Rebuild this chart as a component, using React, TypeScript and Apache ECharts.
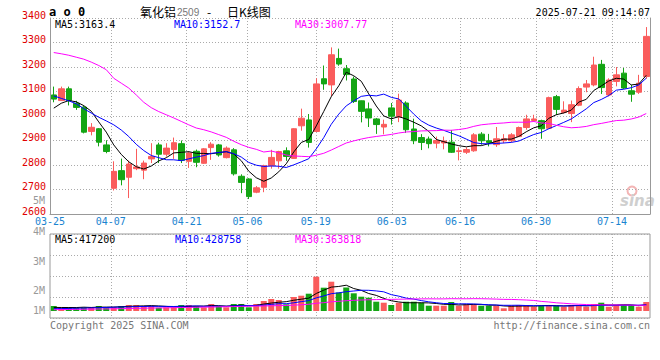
import React, { useEffect, useRef } from "react";
import * as echarts from "echarts";

const dates = [
  "03-25","03-26","03-27","03-28","03-31",
  "04-01","04-02","04-03","04-07","04-08","04-09","04-10","04-11","04-14","04-15","04-16","04-17","04-18","04-21","04-22","04-23","04-24","04-25","04-28","04-29","04-30",
  "05-06","05-07","05-08","05-09","05-12","05-13","05-14","05-15","05-16","05-19","05-20","05-21","05-22","05-23","05-26","05-27","05-28","05-29","05-30",
  "06-03","06-04","06-05","06-06","06-09","06-10","06-11","06-12","06-13","06-16","06-17","06-18","06-19","06-20","06-23","06-24","06-25","06-26","06-27","06-30",
  "07-01","07-02","07-03","07-04","07-07","07-08","07-09","07-10","07-11","07-14","07-15","07-16","07-17","07-18","07-21",
];

const opens = [
  3086,3063,3111,3052,3036,2937,2948,2882,2705,2777,
  2750,2785,2779,2825,2882,2844,2863,2887,2815,2856,
  2807,2871,2882,2830,2862,2754,2743,2689,2709,2797,
  2817,2858,2827,2960,2984,2937,3152,3127,3235,3193,
  3151,3062,3029,2988,2955,3033,2996,3053,2947,2912,
  2906,2889,2890,2893,2855,2852,2858,2926,2899,2883,
  2899,2899,2916,2953,2982,2981,2950,3079,3014,3010,
  3044,3118,3127,3211,3086,3141,3175,3103,3097,3161,
];
const closes = [
  3069,3111,3063,3035,2934,2954,2893,2855,2774,2740,
  2804,2792,2808,2835,2844,2869,2891,2819,2849,2811,
  2866,2885,2841,2869,2764,2729,2671,2707,2797,2831,
  2855,2835,2948,2991,2892,3131,3131,3250,3212,3169,
  3059,3019,2992,2965,2966,2999,3065,2944,2899,2892,
  2887,2900,2898,2852,2858,2863,2923,2899,2892,2907,
  2907,2923,2953,2988,2988,2948,3075,3027,3024,3046,
  3112,3131,3208,3116,3147,3168,3114,3089,3134,3325,
];
const lows = [
  3056,3062,3043,3025,2929,2921,2876,2848,2696,2717,
  2665,2779,2742,2808,2808,2834,2825,2808,2788,2791,
  2805,2821,2834,2827,2757,2685,2661,2685,2689,2785,
  2785,2817,2825,2940,2871,2934,3107,3080,3205,3145,
  3053,2974,2955,2927,2925,2965,2975,2931,2885,2861,
  2868,2868,2864,2849,2819,2845,2854,2883,2876,2874,
  2889,2893,2915,2944,2977,2907,2947,3004,3010,2975,
  3040,3097,3121,3090,3080,3121,3110,3058,3090,3152,
];
const highs = [
  3120,3120,3120,3062,3043,2971,2951,2901,2815,2826,
  2818,2866,2818,2889,2891,2889,2912,2900,2856,2863,
  2869,2893,2886,2876,2869,2762,2746,2714,2801,2862,
  2858,2872,2950,3030,3008,3154,3206,3280,3275,3208,
  3161,3063,3055,2992,2985,3053,3091,3060,2989,2926,
  2916,2916,2916,2943,2872,2872,2930,2934,2927,2955,
  2926,2930,2957,3005,3005,2985,3079,3086,3060,3063,
  3121,3147,3242,3229,3154,3200,3196,3127,3168,3363,
];
const volumes = [
  330000,218000,244000,218000,244000,244000,330000,244000,244000,330000,
  396000,396000,330000,330000,218000,244000,244000,396000,396000,330000,
  244000,462000,330000,244000,462000,462000,244000,462000,660000,792000,
  726000,442000,924000,1010000,1142000,2264000,1538000,1934000,1221000,1551000,
  1168000,944000,878000,614000,548000,396000,548000,614000,614000,548000,
  350000,350000,350000,594000,350000,442000,442000,350000,350000,350000,
  178000,350000,396000,396000,284000,350000,396000,350000,284000,396000,
  396000,284000,462000,548000,284000,396000,396000,396000,284000,594000,
];

const ma5Head = [3032, 3052, 3063, 3058];
const ma10Head = [3082, 3072, 3062, 3050, 3030, 3012, 2995, 2980, 2964];
const ma30Head = [
  3259,3254,3248,3240,3232,3220,3206,3189,3154,3134,
  3114,3086,3056,3034,3018,3005,2992,2978,2964,2951,
  2944,2935,2924,2913,2897,2883,2872,2864,2853,
];
const volMa5Head = [238000, 232000, 230000, 228000];
const volMa10Head = [150000, 160000, 170000, 180000, 190000, 205000, 220000, 235000, 250000];
const volMa30Head = [
  90000,95000,100000,108000,115000,122000,130000,138000,146000,155000,
  165000,175000,185000,195000,203000,212000,220000,228000,236000,245000,
  255000,264000,273000,282000,292000,302000,312000,322000,332000,
];

const labelDates = ["03-25","04-07","04-21","05-06","05-19","06-03","06-16","06-30","07-14"];
const priceMin = 2600;
const priceMax = 3400;
const priceStep = 100;
const volumeTickLabels = ["5M", "4M", "3M", "2M", "1M"];
const mainLegend = ["MA5:3163.4", "MA10:3152.7", "MA30:3007.77"];
const volLegend = ["MA5:417200", "MA10:428758", "MA30:363818"];
const titleParts = ["氧化铝", "2509", "-", "日K线图"];
const timeStamp = "2025-07-21 09:14:07";

const RED = "#fa5c5c";
const GREEN = "#14a514";
const MONO = '"DejaVu Sans Mono", "Liberation Mono", monospace';

function movingAvg(values: number[], n: number, head: number[], digits: number) {
  return values.map((_, i) => {
    if (i < n - 1) return head[i];
    let s = 0;
    for (let k = i - n + 1; k <= i; k++) s += values[k];
    return +(s / n).toFixed(digits);
  });
}

function txt(x: number, y: number, text: string, fill: string, font: string, align = "left") {
  return {
    type: "text",
    x,
    y,
    silent: true,
    style: {
      text, fill, font, align, textAlign: align,
      verticalAlign: "middle", textVerticalAlign: "middle", lineHeight: 10,
    },
  };
}

export default function App() {
  const ref = useRef<HTMLDivElement>(null);
  useEffect(() => {
    if (!ref.current) return;
    const chart = echarts.init(ref.current, null, { renderer: "svg" });
    const labelIdx = new Set(labelDates.map((d) => dates.indexOf(d)));
    const grid = { color: "#aaa", type: [1, 2] as any, width: 1 };
    const volPx = 66000;
    const volMin = -7 * volPx;
    const volMax = 77 * volPx;

    const candles = dates.map((_, i) => [opens[i], closes[i], lows[i], highs[i]]);
    const volData = volumes.map((v, i) => ({
      value: v,
      itemStyle: { color: closes[i] >= opens[i] ? RED : GREEN },
    }));

    const lineS = (name: string, data: number[], color: string, xi: number, yi: number) => ({
      name,
      type: "line",
      xAxisIndex: xi,
      yAxisIndex: yi,
      data,
      symbol: "none",
      silent: true,
      lineStyle: { color, width: 1 },
      z: 5,
    });

    const graphics: any[] = [
      txt(49, 12, "a o 0", "#000", `bold 12px ${MONO}`),
      txt(140, 11, titleParts[0], "#000", '12px "Noto Sans CJK SC"'),
      txt(177, 12, titleParts[1], "#777", '10px "Liberation Sans"'),
      txt(207, 11, titleParts[2], "#000", '12px "Noto Sans CJK SC"'),
      txt(227, 11, titleParts[3], "#000", '12px "Noto Sans CJK SC"'),
      txt(650, 12, timeStamp, "#000", `10px ${MONO}`, "right"),
      txt(55, 24, mainLegend[0], "#000", `10px ${MONO}`),
      txt(174, 24, mainLegend[1], "#0000ff", `10px ${MONO}`),
      txt(295, 24, mainLegend[2], "#ff00ff", `10px ${MONO}`),
      txt(55, 239, volLegend[0], "#000", `10px ${MONO}`),
      txt(175, 239, volLegend[1], "#0000ff", `10px ${MONO}`),
      txt(295, 239, volLegend[2], "#ff00ff", `10px ${MONO}`),
      txt(50, 325, "Copyright 2025 SINA.COM", "#777", `10px ${MONO}`),
      txt(650, 325, "http://finance.sina.com.cn", "#777", `10px ${MONO}`, "right"),
      {
        type: "circle",
        shape: { cx: 632, cy: 191, r: 4.5 },
        silent: true,
        style: { fill: "none", stroke: "#f3b5b5", lineWidth: 2 },
      },
      txt(620, 201, "sina", "#cfcfcf", 'italic bold 15px "DejaVu Sans"'),
    ];
    const volY = [200, 231, 261, 290, 310];
    volumeTickLabels.forEach((t, i) => graphics.push(txt(45, volY[i], t, "#999", `10px ${MONO}`, "right")));

    chart.setOption({
      animation: false,
      backgroundColor: "#fff",
      grid: [
        { left: 50, right: 10, top: 18, height: 196 },
        { left: 50, right: 10, top: 234, height: 84, show: true, borderColor: "#999", borderWidth: 1 },
      ],
      xAxis: [
        {
          type: "category", gridIndex: 0, data: dates, boundaryGap: true,
          axisLine: { show: true, lineStyle: { color: "#999" } },
          axisTick: { show: false }, axisLabel: { show: false }, splitLine: { show: false },
        },
        {
          type: "category", gridIndex: 0, data: dates, boundaryGap: false, position: "bottom",
          axisLine: { show: false }, axisTick: { show: false },
          axisLabel: {
            interval: (i: number) => labelIdx.has(i),
            color: "#1a84d0", fontSize: 10, fontFamily: MONO, margin: 2, lineHeight: 10,
          },
          splitLine: { show: true, interval: (i: number) => labelIdx.has(i) && i > 0, lineStyle: grid },
        },
        {
          type: "category", gridIndex: 1, data: dates, boundaryGap: true,
          axisLine: { show: false }, axisTick: { show: false }, axisLabel: { show: false }, splitLine: { show: false },
        },
        {
          type: "category", gridIndex: 1, data: dates, boundaryGap: false,
          axisLine: { show: false }, axisTick: { show: false }, axisLabel: { show: false },
          splitLine: { show: true, interval: (i: number) => labelIdx.has(i) && i > 0, lineStyle: grid },
        },
      ],
      yAxis: [
        {
          type: "value", gridIndex: 0, min: priceMin, max: priceMax, interval: priceStep, position: "left",
          axisLine: { show: true, lineStyle: { color: "#999" } }, axisTick: { show: false },
          axisLabel: {
            color: "#e00000", fontSize: 10, fontFamily: MONO, margin: 4,
            verticalAlign: "bottom", lineHeight: 6,
            formatter: (v: number) => String(v),
          },
          splitLine: { show: true, lineStyle: grid },
        },
        {
          type: "value", gridIndex: 0, min: priceMin, max: priceMax, interval: priceStep, position: "right",
          axisLine: { show: true, lineStyle: { color: "#999" } }, axisTick: { show: false },
          axisLabel: { show: false }, splitLine: { show: false },
        },
        { type: "value", gridIndex: 1, min: volMin, max: volMax, show: false, splitLine: { show: false } },
        {
          type: "value", gridIndex: 1, min: 0, max: 4, interval: 1,
          axisLine: { show: false }, axisTick: { show: false }, axisLabel: { show: false },
          splitLine: { show: true, lineStyle: grid },
        },
      ],
      series: [
        {
          type: "candlestick", xAxisIndex: 0, yAxisIndex: 0, data: candles, barWidth: 6, silent: true,
          itemStyle: { color: RED, color0: GREEN, borderColor: RED, borderColor0: GREEN, borderWidth: 1 },
        },
        lineS("MA5", movingAvg(closes, 5, ma5Head, 2), "#000", 0, 0),
        lineS("MA10", movingAvg(closes, 10, ma10Head, 2), "#0000ff", 0, 0),
        lineS("MA30", movingAvg(closes, 30, ma30Head, 2), "#ff00ff", 0, 0),
        { type: "bar", xAxisIndex: 2, yAxisIndex: 2, data: volData, barWidth: 6, silent: true },
        lineS("VMA5", movingAvg(volumes, 5, volMa5Head, 0), "#000", 2, 2),
        lineS("VMA10", movingAvg(volumes, 10, volMa10Head, 0), "#0000ff", 2, 2),
        lineS("VMA30", movingAvg(volumes, 30, volMa30Head, 0), "#ff00ff", 2, 2),
      ],
      graphic: graphics,
    });
    return () => chart.dispose();
  }, []);
  return (
    <div
      ref={ref}
      style={{ position: "absolute", left: 0, top: 0, width: 660, height: 360, background: "#fff" }}
    />
  );
}
